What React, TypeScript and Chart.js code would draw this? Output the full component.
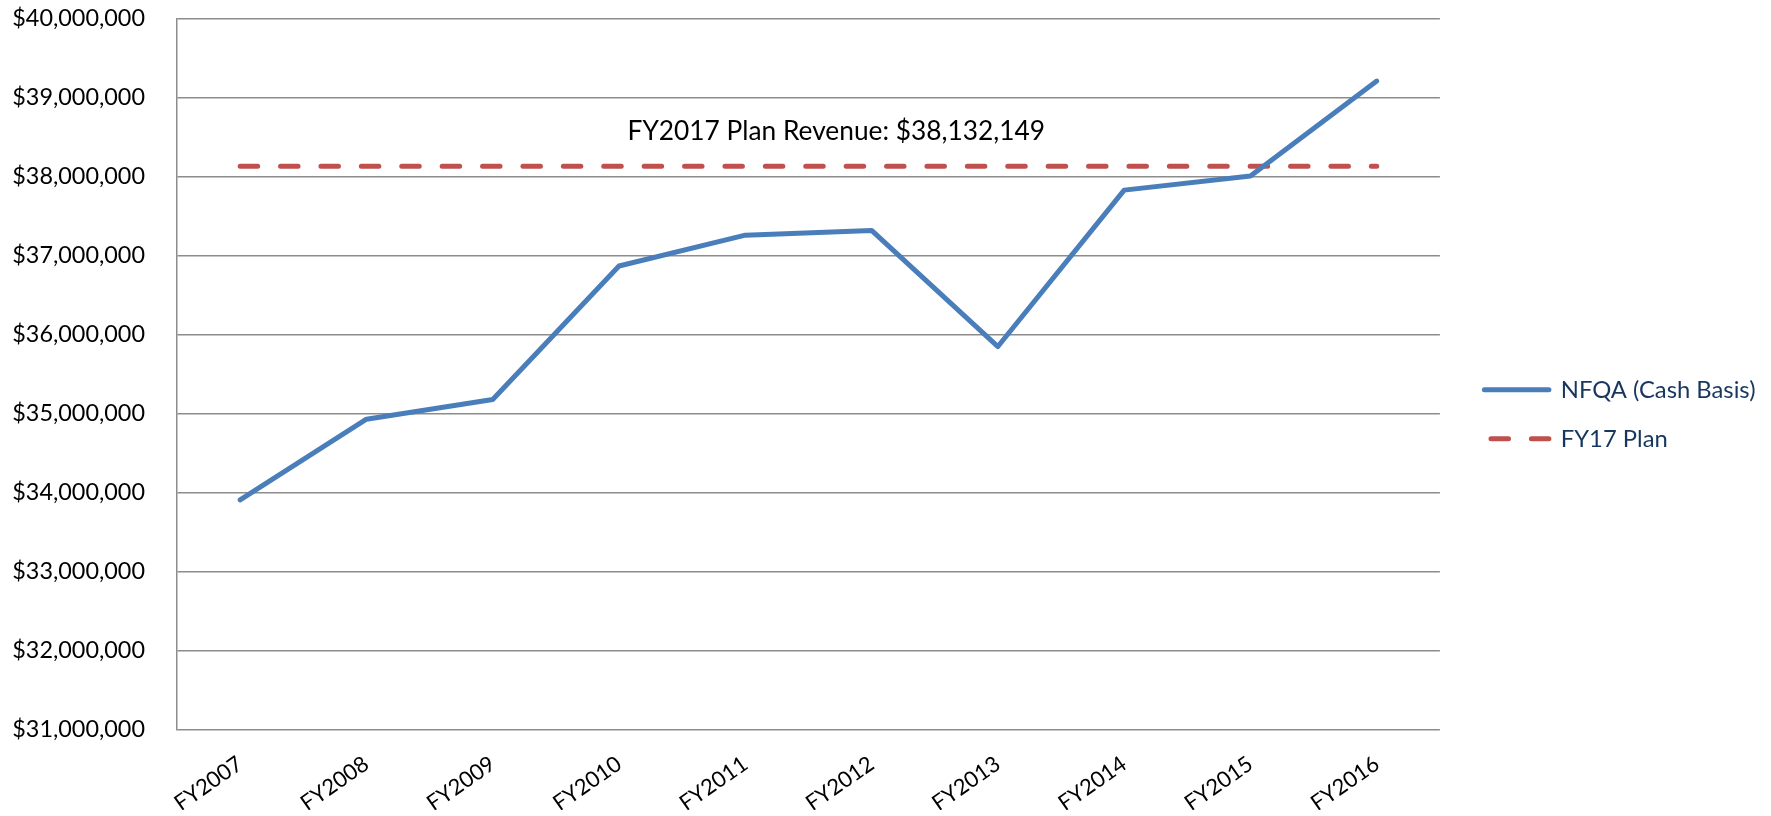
import React, { useEffect, useRef } from 'react';
import { Chart, registerables } from 'chart.js';

Chart.register(...registerables);

const categories = ['FY2007', 'FY2008', 'FY2009', 'FY2010', 'FY2011', 'FY2012', 'FY2013', 'FY2014', 'FY2015', 'FY2016'];
const nfqaValues = [33910000, 34930000, 35180000, 36870000, 37260000, 37320000, 35850000, 37830000, 38010000, 39210000];
const planValues = [38132149, 38132149, 38132149, 38132149, 38132149, 38132149, 38132149, 38132149, 38132149, 38132149];
const yTickValues = [31000000, 32000000, 33000000, 34000000, 35000000, 36000000, 37000000, 38000000, 39000000, 40000000];
const seriesNames = ['NFQA (Cash Basis)', 'FY17 Plan'];
const annotationText = 'FY2017 Plan Revenue: $38,132,149';
const annotationAnchor = { index: 4.72, value: 38570000 };

const FONT = 'Lato';
const BLUE = '#4A7EBB';
const RED = '#C0504D';
const GRID = '#8C8C8C';
const PLAN_DASH = [17.5, 22.9];

const fmtMoney = (v: number) => '$' + Math.round(v).toLocaleString('en-US');

const annotationPlugin = {
  id: 'planAnnotation',
  afterDatasetsDraw(chart: any) {
    const { ctx, scales } = chart;
    const x = scales.x.getPixelForValue(annotationAnchor.index);
    const y = scales.y.getPixelForValue(annotationAnchor.value);
    ctx.save();
    ctx.font = `26.3px ${FONT}`;
    ctx.fillStyle = '#000000';
    ctx.textAlign = 'center';
    ctx.textBaseline = 'middle';
    ctx.fillText(annotationText, x, y);
    ctx.restore();
  },
};

export default function App() {
  const canvasRef = useRef<HTMLCanvasElement | null>(null);

  useEffect(() => {
    const canvas = canvasRef.current;
    if (!canvas) return;
    Chart.defaults.font.family = FONT;
    const chart = new Chart(canvas, {
      type: 'line',
      data: {
        labels: categories,
        datasets: [
          {
            label: seriesNames[0],
            data: nfqaValues,
            borderColor: BLUE,
            backgroundColor: BLUE,
            borderWidth: 5,
            borderCapStyle: 'round',
            borderJoinStyle: 'round',
            pointRadius: 0,
            pointHoverRadius: 0,
            tension: 0,
            fill: false,
          },
          {
            label: seriesNames[1],
            data: planValues,
            borderColor: RED,
            backgroundColor: RED,
            borderWidth: 5,
            borderDash: PLAN_DASH,
            borderCapStyle: 'round',
            pointRadius: 0,
            pointHoverRadius: 0,
            tension: 0,
            fill: false,
          },
        ],
      },
      options: {
        responsive: false,
        animation: false,
        devicePixelRatio: 1,
        layout: { padding: { top: 18.7, right: 5.5, bottom: 6, left: 0 } },
        plugins: {
          tooltip: { enabled: false },
          legend: {
            position: 'right',
            align: 'center',
            labels: {
              usePointStyle: true,
              pointStyle: 'line',
              pointStyleWidth: 64.5,
              padding: 25.2,
              color: '#17375E',
              font: { family: FONT, size: 23.8 },
              generateLabels: (chart: any) => {
                const items = Chart.defaults.plugins.legend.labels.generateLabels(chart);
                items.forEach((it: any, i: number) => {
                  const ds: any = chart.data.datasets[i];
                  it.lineCap = 'round';
                  it.lineWidth = 5;
                  it.strokeStyle = ds.borderColor;
                  if (ds.borderDash) {
                    it.lineDash = ds.borderDash;
                    it.lineDashOffset = 33.8;
                  }
                });
                return items;
              },
            },
          },
        },
        scales: {
          x: {
            type: 'category',
            offset: true,
            grid: { display: false, drawTicks: false },
            border: { display: false },
            ticks: {
              minRotation: 35,
              maxRotation: 35,
              autoSkip: false,
              padding: 21,
              color: '#000000',
              font: { family: FONT, size: 22 },
            },
            afterFit: (scale: any) => {
              scale.height = 80.3;
              scale.paddingLeft = 0;
              scale.paddingRight = 0;
            },
          },
          y: {
            type: 'linear',
            min: yTickValues[0],
            max: yTickValues[yTickValues.length - 1],
            afterBuildTicks: (scale: any) => {
              scale.ticks = yTickValues.map((v) => ({ value: v }));
            },
            grid: { color: GRID, lineWidth: 1.5, drawTicks: false },
            border: { display: true, color: GRID, width: 1.5 },
            ticks: {
              padding: 32,
              color: '#000000',
              font: { family: FONT, size: 23.4 },
              callback: (v: any) => fmtMoney(Number(v)),
            },
            afterFit: (scale: any) => {
              scale.width = 177;
              scale.paddingTop = 0;
              scale.paddingBottom = 0;
            },
          },
          yPad: {
            type: 'linear',
            position: 'right',
            display: false,
            grid: { display: false, drawTicks: false },
            border: { display: false },
            ticks: { display: false },
            afterFit: (scale: any) => {
              scale.width = 19.3;
              scale.paddingTop = 0;
              scale.paddingBottom = 0;
            },
          },
        },
      },
      plugins: [annotationPlugin],
    } as any);
    return () => chart.destroy();
  }, []);

  return (
    <div style={{ position: 'absolute', left: 0, top: 0, width: 1771, height: 816, background: '#ffffff' }}>
      <canvas ref={canvasRef} width={1771} height={816} style={{ display: 'block', width: 1771, height: 816 }} />
    </div>
  );
}
